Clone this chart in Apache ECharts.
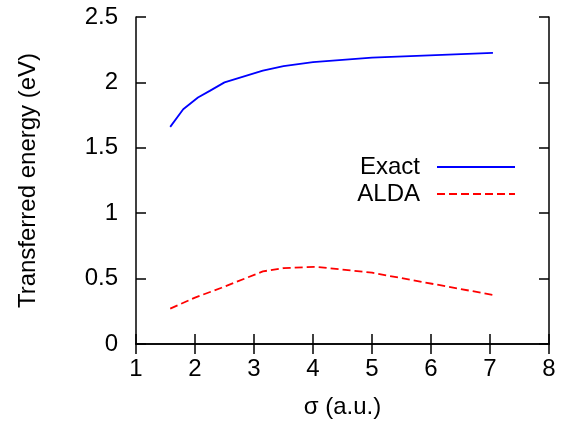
<!DOCTYPE html>
<html>
<head>
<meta charset="utf-8">
<script src="https://cdn.jsdelivr.net/npm/echarts@6/dist/echarts.min.js"></script>
<style>
  html, body { margin: 0; padding: 0; background: #fff; }
  #chart { width: 562px; height: 430px; }
</style>
</head>
<body>
<div id="chart"></div>
<script>
// sigma (a.u.) vs transferred energy (eV)
const exactSigma = [1.58, 1.8, 2.05, 2.25, 2.5, 3.15, 3.5, 4.0, 5.0, 7.05]
const exactEnergy = [1.66, 1.795, 1.885, 1.935, 2.0, 2.09, 2.125, 2.155, 2.19, 2.225]

const aldaSigma = [1.58, 2.0, 2.45, 3.15, 3.5, 4.05, 5.0, 7.05]
const aldaEnergy = [0.27, 0.355, 0.43, 0.555, 0.58, 0.59, 0.545, 0.375]

const xTicks = [1, 2, 3, 4, 5, 6, 7, 8]
const yTicks = [0, 0.5, 1, 1.5, 2, 2.5]

const zip = (xs, ys) => xs.map((x, i) => [x, ys[i]])

const font = 'Liberation Sans, Arial, sans-serif'
const frame = { show: true, lineStyle: { color: '#000', width: 1.5 } }
const ticks = { show: true, inside: true, length: 10, lineStyle: { color: '#000', width: 1.5 } }

const chart = echarts.init(document.getElementById('chart'))

chart.setOption({
  animation: false,
  textStyle: { fontFamily: font },
  grid: { left: 136, right: 13, top: 17, bottom: 86 },
  legend: {
    orient: 'vertical',
    right: 41,
    top: 150,
    align: 'right',
    itemWidth: 78,
    itemHeight: 4,
    itemGap: 3,
    itemStyle: { opacity: 0 },
    textStyle: { fontSize: 24, color: '#000', fontFamily: font, padding: [0, 12, 0, 0] },
    data: ['Exact', 'ALDA']
  },
  xAxis: [
    {
      type: 'value', min: xTicks[0], max: xTicks[xTicks.length - 1], interval: 1,
      name: 'σ (a.u.)', nameLocation: 'middle', nameGap: 51,
      nameTextStyle: { fontSize: 24, color: '#000', fontFamily: font },
      axisLine: frame, axisTick: ticks, splitLine: { show: false },
      axisLabel: { fontSize: 24, color: '#000', margin: 13 }
    },
    {
      type: 'value', position: 'top', min: xTicks[0], max: xTicks[xTicks.length - 1], interval: 1,
      axisLine: frame, axisTick: ticks, splitLine: { show: false },
      axisLabel: { show: false }
    }
  ],
  yAxis: [
    {
      type: 'value', min: yTicks[0], max: yTicks[yTicks.length - 1], interval: 0.5,
      name: 'Transferred energy (eV)', nameLocation: 'middle', nameGap: 96,
      nameTextStyle: { fontSize: 24, color: '#000', fontFamily: font },
      axisLine: frame, axisTick: ticks, splitLine: { show: false },
      axisLabel: { fontSize: 24, color: '#000', margin: 18 }
    },
    {
      type: 'value', position: 'right', min: yTicks[0], max: yTicks[yTicks.length - 1], interval: 0.5,
      axisLine: frame, axisTick: ticks, splitLine: { show: false },
      axisLabel: { show: false }
    }
  ],
  series: [
    {
      name: 'Exact',
      type: 'line',
      data: zip(exactSigma, exactEnergy),
      showSymbol: false,
      symbol: 'none',
      color: '#0000ff',
      lineStyle: { color: '#0000ff', width: 1.8 }
    },
    {
      name: 'ALDA',
      type: 'line',
      data: zip(aldaSigma, aldaEnergy),
      showSymbol: false,
      symbol: 'none',
      color: '#ff0000',
      lineStyle: { color: '#ff0000', width: 1.8, type: [8, 4] }
    }
  ]
})
</script>
</body>
</html>
